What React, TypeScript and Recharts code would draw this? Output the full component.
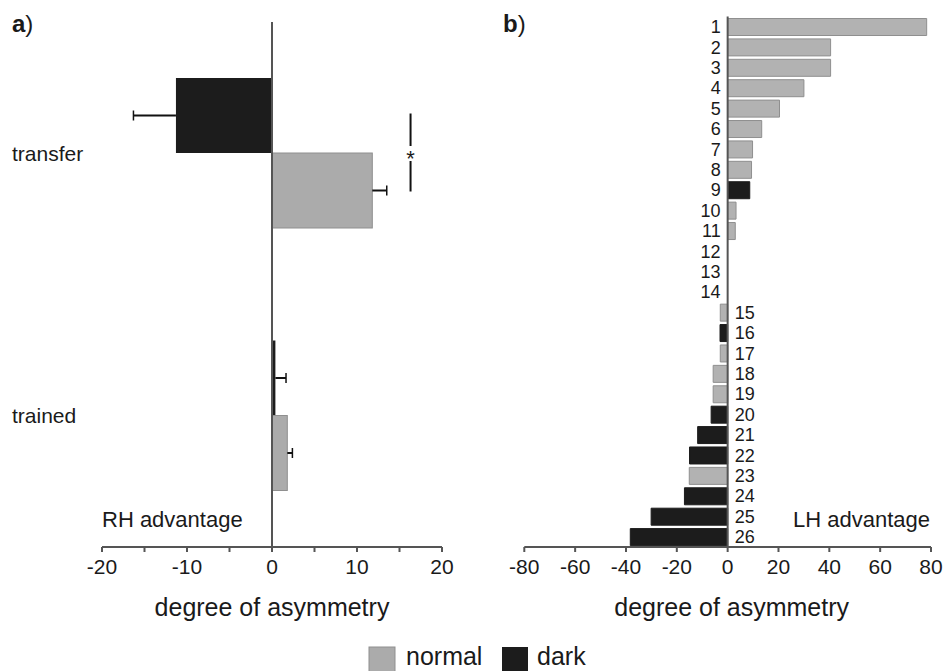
import { BarChart, Bar, XAxis, YAxis, ReferenceLine, Cell } from 'recharts'

// panel a: group means, with one-sided error (outward)
const groups = ['transfer', 'trained']
const normalMean = [11.8, 1.8]
const normalErr = [1.7, 0.6]
const darkMean = [-11.3, 0.4]
const darkErr = [5.0, 1.25]
const sigAt = [16.3, null]
const ticksA = [-20, -15, -10, -5, 0, 5, 10, 15, 20]

// panel b: single subjects
const subjects = ['1', '2', '3', '4', '5', '6', '7', '8', '9', '10', '11', '12', '13', '14', '15', '16', '17', '18', '19', '20', '21', '22', '23', '24', '25', '26']
const asym = [78.3, 40.5, 40.5, 30.0, 20.4, 13.4, 9.8, 9.4, 8.7, 3.3, 3.0, 0, 0, 0, -2.9, -3.0, -2.9, -5.7, -5.7, -6.5, -11.8, -15.0, -15.1, -17.0, -30.1, -38.3]
const condition = ['normal', 'normal', 'normal', 'normal', 'normal', 'normal', 'normal', 'normal', 'dark', 'normal', 'normal', 'normal', 'normal', 'normal', 'normal', 'dark', 'normal', 'normal', 'normal', 'dark', 'dark', 'dark', 'normal', 'dark', 'dark', 'dark']
const ticksB = [-80, -60, -40, -20, 0, 20, 40, 60, 80]
const domainB: [number, number] = [-80, 80]

const GRAY = '#ababab'
const GRAY_EDGE = '#8f8f8f'
const DARK = '#1c1c1c'
const AXIS = '#555555'
const INK = '#1a1a1a'
const FONT = '"Liberation Sans", Arial, Helvetica, sans-serif'

// chart b geometry
const B_W = 474
const B_LEFT = 54.3
const B_RIGHT = 13

const sign = (v: number) => (v < 0 ? -1 : 1)

const dataA = groups.map((g, i) => ({
  group: g,
  dark: darkMean[i],
  darkErr: sign(darkMean[i]) * darkErr[i],
  normal: normalMean[i],
  normalErr: sign(normalMean[i]) * normalErr[i],
  sig: sigAt[i],
}))

const dataB = subjects.map((id, i) => ({ id, value: asym[i], cond: condition[i] }))

function AxisTick(props: any) {
  const { x, y, payload, every } = props
  if (payload.value % every !== 0) return null
  return (
    <text x={x} y={y} dy="0.71em" textAnchor="middle" fontSize={21} fill={INK}>
      {payload.value}
    </text>
  )
}

function GroupTick(props: any) {
  const { y, payload } = props
  return (
    <text x={12} y={y} dy="0.35em" textAnchor="start" fontSize={21} fill={INK}>
      {payload.value}
    </text>
  )
}

// subject numbers sit next to the zero line, on the side away from the bar
function SubjectTick(props: any) {
  const { y, payload } = props
  const v = asym[subjects.indexOf(String(payload.value))]
  const plotW = B_W - B_LEFT - B_RIGHT
  const zero = B_LEFT + (plotW * (0 - domainB[0])) / (domainB[1] - domainB[0])
  const neg = v < 0
  return (
    <text x={neg ? zero + 7 : zero - 7} y={y} dy="0.36em" textAnchor={neg ? 'start' : 'end'} fontSize={18} fill={INK}>
      {payload.value}
    </text>
  )
}

// error whisker drawn on the stacked error segment, cap on the outer end only
function makeWhisker(key: string) {
  return (props: any) => {
    const { x, y, width, height, payload } = props
    if (!width) return <g />
    const lo = Math.min(x, x + width)
    const hi = Math.max(x, x + width)
    const outer = payload[key] < 0 ? lo : hi
    const cy = y + height / 2
    return (
      <g>
        <line x1={lo} x2={hi} y1={cy} y2={cy} stroke="#111" strokeWidth={2} />
        <line x1={outer} x2={outer} y1={cy - 5} y2={cy + 5} stroke="#111" strokeWidth={1.5} />
      </g>
    )
  }
}

function NormalBar(props: any) {
  const { x, y, width, height, payload } = props
  const lo = Math.min(x, x + width)
  const w = Math.abs(width)
  const bar = <rect x={lo} y={y} width={w} height={height} fill={GRAY} stroke={GRAY_EDGE} strokeWidth={1} />
  if (payload.sig == null || !w) return bar
  // significance bracket from the dark bar centre to the normal bar centre
  const zero = payload.normal < 0 ? lo + w : lo
  const bx = zero + (payload.sig * w) / payload.normal
  const half = height / 2
  return (
    <g>
      {bar}
      <line x1={bx} x2={bx} y1={y - half - 2} y2={y - 7} stroke="#111" strokeWidth={2} />
      <text x={bx} y={y + 13} textAnchor="middle" fontSize={22} fill={INK}>*</text>
      <line x1={bx} x2={bx} y1={y + 8} y2={y + half + 1} stroke="#111" strokeWidth={2} />
    </g>
  )
}

const axisLabel = { value: 'degree of asymmetry', position: 'insideBottom' as const, offset: 3, fontSize: 25, fill: INK }

export default function App() {
  return (
    <div style={{ position: 'absolute', left: 0, top: 0, width: 944, height: 671, background: '#fff', fontFamily: FONT, overflow: 'hidden' }}>
      <div style={{ position: 'absolute', left: 0, top: 0 }}>
        <BarChart layout="vertical" width={470} height={640} data={dataA} margin={{ top: 22, right: 28, left: 0, bottom: 21 }} barGap={0} barSize={75}>
          <XAxis
            type="number"
            domain={[-20, 20]}
            ticks={ticksA}
            interval={0}
            tick={<AxisTick every={10} />}
            tickSize={5}
            tickMargin={7}
            tickLine={{ stroke: AXIS, strokeWidth: 2 }}
            axisLine={{ stroke: AXIS, strokeWidth: 2 }}
            height={72}
            label={axisLabel}
          />
          <YAxis type="category" dataKey="group" width={102} axisLine={false} tickLine={false} tick={<GroupTick />} />
          <Bar dataKey="dark" stackId="d" fill={DARK} isAnimationActive={false} />
          <Bar dataKey="darkErr" stackId="d" fill="none" shape={makeWhisker('darkErr')} isAnimationActive={false} />
          <Bar dataKey="normal" stackId="n" fill={GRAY} shape={NormalBar} isAnimationActive={false} />
          <Bar dataKey="normalErr" stackId="n" fill="none" shape={makeWhisker('normalErr')} isAnimationActive={false} />
          <ReferenceLine x={0} stroke={AXIS} strokeWidth={2} />
        </BarChart>
      </div>
      <div style={{ position: 'absolute', left: 470, top: 0 }}>
        <BarChart layout="vertical" width={B_W} height={640} data={dataB} margin={{ top: 16.5, right: B_RIGHT, left: 0, bottom: 21 }} barSize={17}>
          <XAxis
            type="number"
            domain={domainB}
            ticks={ticksB}
            interval={0}
            tick={<AxisTick every={20} />}
            tickSize={5}
            tickMargin={7}
            tickLine={{ stroke: AXIS, strokeWidth: 2 }}
            axisLine={{ stroke: AXIS, strokeWidth: 2 }}
            height={72}
            label={{ ...axisLabel, dx: 4 }}
          />
          <YAxis type="category" dataKey="id" width={B_LEFT} interval={0} axisLine={false} tickLine={false} tick={<SubjectTick />} />
          <Bar dataKey="value" isAnimationActive={false}>
            {dataB.map((d) => (
              <Cell key={d.id} fill={d.cond === 'dark' ? DARK : '#b2b2b2'} stroke={d.cond === 'dark' ? DARK : GRAY_EDGE} strokeWidth={1} />
            ))}
          </Bar>
          <ReferenceLine x={0} stroke={AXIS} strokeWidth={2} />
        </BarChart>
      </div>
      <svg width={944} height={671} style={{ position: 'absolute', left: 0, top: 0, pointerEvents: 'none' }} fontFamily={FONT}>
        <text x={12} y={32} fontSize={24} fill={INK}>
          <tspan fontWeight="bold">a</tspan>)
        </text>
        <text x={503} y={32} fontSize={24} fill={INK}>
          <tspan fontWeight="bold">b</tspan>)
        </text>
        <text x={102} y={527} fontSize={22} fill={INK}>RH advantage</text>
        <text x={930} y={527} fontSize={22} fill={INK} textAnchor="end">LH advantage</text>
        <rect x={369} y={647} width={26} height={26} fill={GRAY} stroke={GRAY_EDGE} strokeWidth={1} />
        <text x={406} y={665} fontSize={25} fill={INK}>normal</text>
        <rect x={502} y={647} width={26} height={26} fill={DARK} />
        <text x={537} y={665} fontSize={25} fill={INK}>dark</text>
      </svg>
    </div>
  )
}
